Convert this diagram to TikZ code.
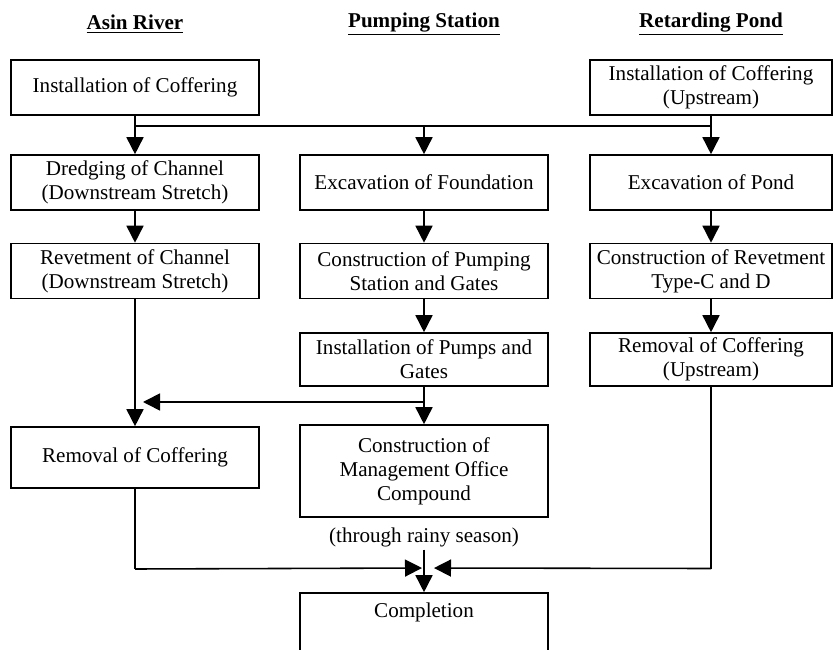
\documentclass[tikz,border=0pt]{standalone}
\usepackage{fontspec}
\setmainfont{Liberation Serif}
\usepackage{tikz}
\usetikzlibrary{arrows.meta, positioning}

\begin{document}
\begin{tikzpicture}[auto, node distance=2cm, >={Triangle[length=0.34cm, width=0.34cm]}, line width=0.9pt]
        % Styles for the work stages and headings
        \tikzstyle{stage} = [draw, rectangle, align=center, inner sep=1pt, minimum width=4.96cm, minimum height=1.1cm, font=\fontsize{12}{13.6}\selectfont]
        \tikzstyle{heading} = [font=\fontsize{12}{13.6}\selectfont\bfseries]
        \tikzstyle{note} = [font=\fontsize{12}{13.6}\selectfont, inner sep=1pt] % text under a box

        \useasboundingbox (-2.7,1.75) rectangle (13.96,-11.25);

        % Nodes
        \node at (0,0) [stage] (coffer) {Installation of Coffering};
        \node [heading, on grid, above=1.27cm of coffer] (riverHead) {\underline{Asin River}};
        \node [stage, on grid, below=1.9cm of coffer] (dredge) {Dredging of Channel\\(Downstream Stretch)};
        \node [stage, on grid, below=1.77cm of dredge] (revetL) {Revetment of Channel\\(Downstream Stretch)};
        \node [coordinate, on grid, below=2.62cm of revetL] (elbowL){};
        \node [stage, on grid, below=3.73cm of revetL, minimum height=1.22cm] (removeL) {Removal of Coffering};
        \node [coordinate, on grid, below=2.23cm of removeL] (joinL){};

        \node [heading, on grid, right=5.78cm of riverHead] (stationHead) {\underline{Pumping Station}};
        \node [stage, on grid, right=5.78cm of dredge] (excav) {Excavation of Foundation};
        \node [coordinate, on grid, above=1.13cm of excav] (split){};
        \node [stage, on grid, right=5.78cm of revetL] (station) {Construction of Pumping\\Station and Gates};
        \node [stage, on grid, below=1.77cm of station, minimum height=1.06cm] (pumps) {Installation of Pumps and\\Gates};
        \node [coordinate, on grid, below=0.85cm of pumps] (elbowM){};
        \node [stage, on grid, below=2.23cm of pumps, minimum height=1.84cm] (office) {Construction of\\Management Office\\Compound};
        \node [note, below=0.15cm of office] (rainy) {(through rainy season)};
        \node [coordinate, on grid, below=1.94cm of office] (join){};
        \node [stage, on grid, below=3.09cm of office, minimum height=1.3cm, text depth=0.6cm] (done) {Completion};

        \node [stage, on grid, right=11.52cm of coffer, minimum width=4.84cm] (pondIn) {Installation of Coffering\\(Upstream)};
        \node [heading, on grid, above=1.27cm of pondIn] (pondHead) {\underline{Retarding Pond}};
        \node [stage, on grid, below=1.9cm of pondIn, minimum width=4.84cm] (pondEx) {Excavation of Pond};
        \node [stage, on grid, below=1.77cm of pondEx, minimum width=4.84cm] (pondRev) {Construction of Revetment\\Type-C and D};
        \node [stage, on grid, below=1.77cm of pondRev, minimum width=4.84cm, minimum height=1.06cm] (pondOut) {Removal of Coffering\\(Upstream)};
        \node [coordinate, on grid, below=4.18cm of pondOut] (joinR){};

        % Lines
        \draw [->] (coffer) -- (dredge);
        \draw [-] (split -| coffer) -- (split -| pondIn);
        \draw [->] (split) -- (excav);
        \draw [->] (pondIn) -- (pondEx);
        \draw [->] (dredge) -- (revetL);
        \draw [->] (revetL) -- (removeL);
        \draw [->] (excav) -- (station);
        \draw [->] (station) -- (pumps);
        \draw [->] (pumps) -- (office);
        \draw [->, shorten >=0.16cm] (elbowM) -- (elbowL);
        \draw [->] (pondEx) -- (pondRev);
        \draw [->] (pondRev) -- (pondOut);
        \draw [-] (removeL) -- (joinL);
        \draw [->, shorten >=0.04cm] (joinL) -- (join);
        \draw [-] (pondOut) -- (joinR);
        \draw [->, shorten >=0.2cm] (joinR) -- (join);
        \draw [->] (rainy) -- (done);

      \end{tikzpicture}
\end{document}
